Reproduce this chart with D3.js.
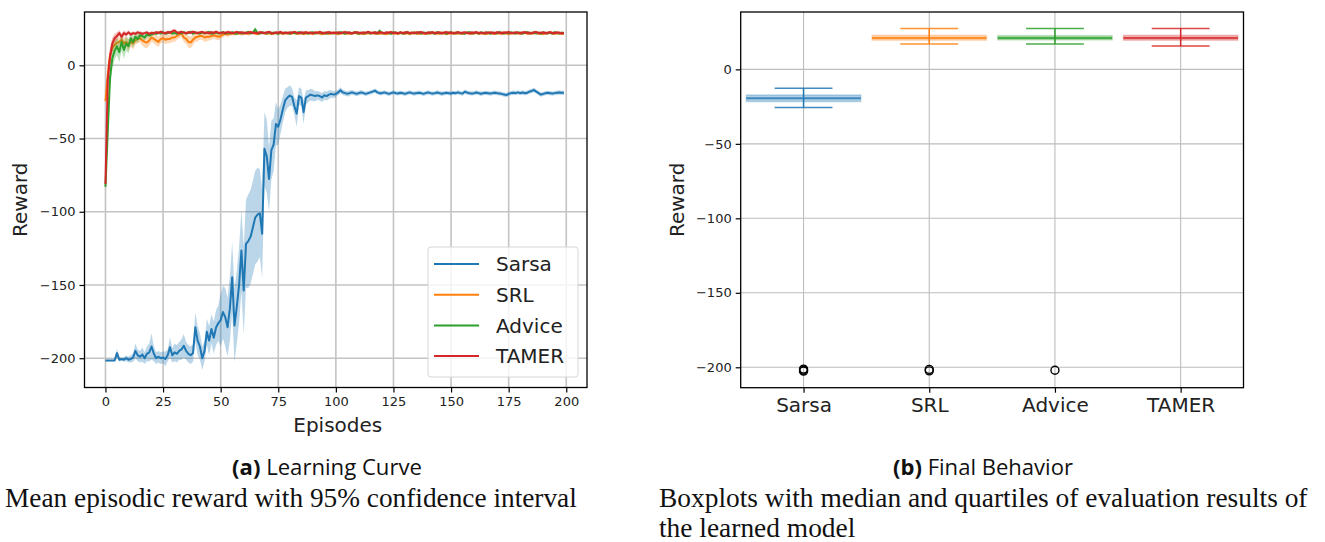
<!DOCTYPE html>
<html>
<head>
<meta charset="utf-8">
<script src="https://d3js.org/d3.v7.min.js"></script>
<style>
  body { margin: 0; background: #fff; }
  svg { display: block; }
</style>
</head>
<body>
<svg id="drawing_region"></svg>
<script>
// ---- (a) learning curve data, episodes 0..199 ----
const seriesNames = ['Sarsa', 'SRL', 'Advice', 'TAMER'];
const seriesColors = ['#1f77b4', '#ff7f0e', '#2ca02c', '#d62728'];
const xTicks = [0, 25, 50, 75, 100, 125, 150, 175, 200];
const yTicks = [-200, -150, -100, -50, 0];

const sarsaMean = [
  -201.5,-201.5,-201.5,-201.5,-201.5,-196.5,-201,-200.5,-201,-200,-201,-200.5,-199.5,-195,-198,-199,-197.5,-200,-197,-196,
  -192,-197,-200,-199,-200,-199.5,-200.5,-198,-192.5,-198,-196,-197,-195,-194,-191.5,-195,-197,-198,-196.5,-178.8,
  -188,-192,-200,-195,-182,-188,-180,-186,-179,-176,-174,-168.5,-172,-178.8,-166,-144.7,-177.7,-165,-150,-126.5,
  -153.8,-122,-120,-117,-110.6,-104,-102,-101,-115,-57,-62,-77.6,-58,-54,-40,-42,-36.6,-30,-24,-22,
  -20.7,-21.5,-28,-33,-21,-22,-32,-22,-21,-20,-20.5,-21,-20.5,-21,-22,-20.5,-21,-20,-19.5,-20,
  -19.6,-18.5,-17,-18.5,-19,-19.5,-19,-18.5,-19,-19.5,-19,-18.5,-19,-19.5,-19,-18.5,-18,-17.3,-18.5,-19,
  -19,-18.5,-19,-19.5,-19,-18.5,-19,-19.2,-18.8,-19,-19.5,-19,-18.5,-19,-19.3,-19,-18.7,-19,-19.5,-19,
  -18.5,-19,-19.3,-19,-18.6,-19,-19.4,-19,-18.8,-19,-19.2,-18.8,-19,-18.5,-19,-19.3,-18,-18.7,-19,-19.2,
  -19,-18.6,-19,-19.4,-19,-18.8,-19,-19.3,-19,-18.7,-19,-19.2,-19.5,-20,-20.3,-19.5,-19,-18.7,-19,-18.5,
  -19,-18.6,-19,-18.8,-18,-17.5,-16.9,-18,-19,-20,-19.5,-19,-18.8,-19,-19.3,-19,-18.7,-18.5,-18.8,-18.7
];
const sarsaCi = [
  0.5,0.5,0.5,0.5,0.5,3,1.5,1,1.5,2,2,2.5,3,5,4,4,5,4,5,6,
  9,5,4,4,4,4,5,4,7,5,6,6,6,7,8,6,6,6,6,10,
  10,9,8,7,9,10,10,11,12,12,18,18,20,20,22,24,25,25,26,28,
  30,30,32,32,32,32,32,30,30,25,25,22,20,18,15,12,10,9,8,7,
  7,6,6,9,6,6,8,5,4,4,4,3.5,3,3,3,3,3,3,2.5,2.5,
  2,2,2,1.8,1.8,1.8,1.8,1.6,1.6,1.6,1.6,1.6,1.5,1.5,1.5,1.5,1.5,1.5,1.5,1.5,
  1.5,1.5,1.5,1.5,1.5,1.5,1.5,1.5,1.5,1.5,1.5,1.5,1.5,1.5,1.5,1.5,1.5,1.5,1.5,1.5,
  1.5,1.5,1.5,1.5,1.5,1.5,1.5,1.5,1.5,1.5,1.5,1.5,1.5,1.5,1.5,1.5,1.5,1.5,1.5,1.5,
  1.5,1.5,1.5,1.5,1.5,1.5,1.5,1.5,1.5,1.5,1.5,1.5,1.5,1.5,1.5,1.5,1.5,1.5,1.5,1.5,
  1.5,1.5,1.5,1.5,1.5,1.5,1.5,1.5,1.5,1.5,1.5,1.5,1.5,1.5,1.5,1.5,1.5,1.5,1.5,1.5
];

const srlMean = [
  -24.5,-6,7,12,14,15.5,16,17.5,15,16,14,16,15,17,18,18.5,17,16,15.5,17,
  19,18,17,16,18,18.5,17.5,18,18,19,19,20,21,21.8,19,18,16,15.5,17.5,19,
  19.5,20,20,19,19.5,19.5,20,20.5,20,19.5,20,21,21.5,21,21.5,22,21.5,21.8,22,21.5,
  21.8,22.2,21.5,21.9,22.4,21.7,21.3,22,22.5,21.8,21.6,22.1,21.4,21.9,22.3,21.7,22,21.5,21.8,22.2,
  21.6,21.9,22.3,21.5,21.8,22.1,21.4,21.7,22.2,21.9,21.5,22,22.4,21.7,21.3,21.9,22.1,21.6,21.8,22.3,
  21.7,21.4,21.9,22.2,21.6,22,21.5,21.8,22.4,21.9,21.6,22.1,21.3,21.8,22,21.7,22.3,21.5,21.9,21.6,
  22.1,21.8,21.4,22,22.3,21.7,21.9,21.5,22.2,21.8,21.6,22,21.4,21.9,22.4,21.7,21.5,22.1,21.8,21.6,
  22,21.7,22.3,21.5,21.9,21.6,22.2,21.8,21.4,22,21.7,22.3,21.5,21.9,22.1,21.6,21.8,22.4,21.7,21.5,
  21.9,22.2,21.6,21.8,22,21.4,21.9,22.3,21.7,21.5,22.1,21.8,21.6,22.2,21.9,21.4,21.8,22.3,21.7,22,
  21.6,21.9,22.4,21.7,21.5,22,21.8,22.2,21.6,21.9,21.4,22.1,21.8,22.5,21.7,21.6,22,21.9,21.5,21.8
];
const srlCi = [
  3,5,4,3.5,3,3,3,3.5,4,3.5,4,3.5,4,3,3,3,3.5,4,4,3.5,
  3,3,3.5,3.5,3,3,3,3,3,3,3,2.5,2.5,2.5,3,3.5,4,4,3.5,3,
  3,2.5,2.5,3,3,2.5,2.5,2,2.5,2.5,2,2,1.5,1.5,1.5,1.5,1.2,1.2,1.2,1.2,
  1.2,1.1,1.1,1.1,1.1,1,1,1,1,1,1,1,1,1,1,1,1,1,1,1,
  1,1,1,1,1,1,1,1,1,1,1,1,1,1,1,1,1,1,1,1,
  1,1,1,1,1,1,1,1,1,1,1,1,1,1,1,1,1,1,1,1,
  1,1,1,1,1,1,1,1,1,1,1,1,1,1,1,1,1,1,1,1,
  1,1,1,1,1,1,1,1,1,1,1,1,1,1,1,1,1,1,1,1,
  1,1,1,1,1,1,1,1,1,1,1,1,1,1,1,1,1,1,1,1,
  1,1,1,1,1,1,1,1,1,1,1,1,1,1,1,1,1,1,1,1
];

const adviceMean = [
  -83,-45,-8,5,10,13,9,16,10.5,15,13,18.5,16,19.5,18,20.5,20,19,21,20.5,
  21,22,21.5,22.3,21.8,22.5,21.6,22,22.8,21.7,22.2,21.5,22.4,21.9,22.6,21.8,22.1,22.9,21.6,22.3,
  22,21.7,22.5,21.9,22.2,22.8,21.6,22.1,22.4,21.8,22,22.6,21.7,22.3,21.9,22.5,22.1,21.6,22.4,22,
  21.8,22.3,22.7,21.9,22.2,24.5,22,21.7,22.4,22.1,21.9,22.6,21.8,22.2,22,21.6,22.5,21.9,22.3,22.1,
  21.7,22.4,22,21.8,22.6,22.1,21.9,22.3,21.6,22.2,22.5,21.8,22,22.7,21.9,22.2,21.7,22.4,22,21.8,
  22.3,21.9,22.6,22.1,21.7,22.4,22,21.8,22.5,22.2,21.6,22.3,21.9,22.1,22.7,21.8,22,22.4,21.7,23.5,
  22.1,21.8,22.3,22,21.6,22.5,22.2,21.9,22.4,21.7,22.1,22.6,21.8,22,22.3,21.9,22.5,21.7,22.2,22,
  21.8,22.4,22.1,21.7,22.6,22,21.9,22.3,21.6,22.2,22.5,21.8,22,22.4,21.9,22.1,21.7,22.3,22.6,21.8,
  22,22.3,21.7,22.5,22.1,21.9,22.4,21.6,22.2,22,21.8,22.6,22.1,21.7,22.3,21.9,22.5,22,21.8,22.4,
  22.1,21.7,22.3,22.6,21.9,22,22.4,21.8,22.2,21.6,22.5,22.1,21.9,22.3,21.7,22.6,22,21.8,22.2,21.9
];
const adviceCi = [
  3,9,9,7,6,6,7,6,6,5,5,4,4,3.5,3,2.5,2.5,2,2,1.5,
  1.3,1.2,1.2,1.2,1.1,1.1,1.1,1,1,1,1,1,1,1,1,1,1,1,1,1,
  1,1,1,1,1,1,1,1,1,1,1,1,1,1,1,1,1,1,1,1,
  1,1,1,1,1,1.8,1,1,1,1,1,1,1,1,1,1,1,1,1,1,
  1,1,1,1,1,1,1,1,1,1,1,1,1,1,1,1,1,1,1,1,
  1,1,1,1,1,1,1,1,1,1,1,1,1,1,1,1,1,1,1,1.5,
  1,1,1,1,1,1,1,1,1,1,1,1,1,1,1,1,1,1,1,1,
  1,1,1,1,1,1,1,1,1,1,1,1,1,1,1,1,1,1,1,1,
  1,1,1,1,1,1,1,1,1,1,1,1,1,1,1,1,1,1,1,1,
  1,1,1,1,1,1,1,1,1,1,1,1,1,1,1,1,1,1,1,1
];

const tamerMean = [
  -81,-10,6,15,18.5,20,22,19.5,22,21,22.5,21,22,21.5,22.5,22,21.5,22,22.5,21.5,
  22.2,21.8,22.6,22.1,22.9,22.3,21.9,22.7,22.2,23.2,23.8,22.5,22.1,22.8,22.3,21.9,22.6,22.2,22.9,22.4,
  22,22.5,22.8,22.1,22.4,21.9,22.6,22.2,22.9,22.3,22,22.5,22.1,22.7,22.4,21.9,22.3,22.8,22.1,22.5,
  22.2,21.8,22.4,22.7,22.1,22.3,21.9,22.6,22.2,22,22.5,22.8,22.1,21.8,22.4,22.2,22.7,22,22.3,21.9,
  22.5,22.1,22.8,22.3,21.9,22.4,22.2,22.6,22,22.3,21.8,22.5,22.1,22.7,22.2,21.9,22.4,22.6,22,22.3,
  22.1,22.5,21.9,22.3,22.7,22.1,22.4,21.8,22.2,22.6,22.3,21.9,22.5,22.1,22.8,22.2,22,22.4,22.1,22.6,
  22.3,21.9,22.4,22.2,22.7,22,22.3,21.8,22.5,22.1,22.4,22.6,22,22.3,21.9,22.5,22.2,22.7,22.1,21.8,
  22.4,22.2,22.6,22,22.3,22.5,21.9,22.2,22.7,22.1,22.4,21.8,22.3,22.6,22,22.2,22.5,22.1,21.9,22.4,
  22.2,22.6,22,22.3,21.8,22.5,22.1,22.4,22.2,21.9,22.6,22.3,22,22.4,22.2,22.7,22.1,21.9,22.5,22.2,
  22,22.4,22.6,22.1,22.3,21.8,22.5,22.7,22,22.2,22.4,21.9,22.3,22.6,22.1,22,22.4,22.2,21.8,22.1
];
const tamerCi = [
  3,10,7,4,3,2.5,2,2,2,1.5,1.5,1.5,1.2,1.2,1.2,1.2,1.2,1,1,1,
  1,1,1,1,1,1,1,1,1,1.2,1.2,1,1,1,1,1,1,1,1,1,
  1,1,1,1,1,1,1,1,1,1,1,1,1,1,1,1,1,1,1,1,
  1,1,1,1,1,1,1,1,1,1,1,1,1,1,1,1,1,1,1,1,
  1,1,1,1,1,1,1,1,1,1,1,1,1,1,1,1,1,1,1,1,
  1,1,1,1,1,1,1,1,1,1,1,1,1,1,1,1,1,1,1,1,
  1,1,1,1,1,1,1,1,1,1,1,1,1,1,1,1,1,1,1,1,
  1,1,1,1,1,1,1,1,1,1,1,1,1,1,1,1,1,1,1,1,
  1,1,1,1,1,1,1,1,1,1,1,1,1,1,1,1,1,1,1,1,
  1,1,1,1,1,1,1,1,1,1,1,1,1,1,1,1,1,1,1,1
];

// ---- (b) final behaviour boxplots ----
const boxCategories = ['Sarsa', 'SRL', 'Advice', 'TAMER'];
const boxWhiskerLow = [-25.6, 17.1, 17.1, 15.6];
const boxQ1 = [-21.6, 19.6, 19.8, 19.6];
const boxMedian = [-19.4, 21.1, 21.1, 21.1];
const boxQ3 = [-17.2, 22.8, 22.6, 22.8];
const boxWhiskerHigh = [-12.7, 27.4, 27.4, 27.4];
const boxOutliers = [[-201.2, -202, -202.6], [-201.4, -202.4], [-202], []];

const svg = d3.select('#drawing_region')
    .attr('width', 1325)
    .attr('height', 542);

class LineChart {
    constructor( config, series ) {
        this.config = config;
        this.series = series;
        this.init();
    }

    init() {
        let self = this;
        const c = self.config;

        self.chart = svg.append('g')
            .attr('transform', `translate(${c.left}, ${c.top})`);

        self.xscale = d3.scaleLinear().domain(c.xdomain).range([0, c.width]);
        self.yscale = d3.scaleLinear().domain(c.ydomain).range([c.height, 0]);

        self.xaxis = d3.axisBottom(self.xscale)
            .tickValues(xTicks).tickSize(5).tickPadding(4.5).tickSizeOuter(0);
        self.yaxis = d3.axisLeft(self.yscale)
            .tickValues(yTicks).tickSize(5).tickPadding(4).tickSizeOuter(0);

        svg.append('defs').append('clipPath').attr('id', 'clipA')
            .append('rect').attr('width', c.width).attr('height', c.height);
    }

    render() {
        let self = this;
        const c = self.config;

        // grid
        self.chart.append('g').selectAll('line').data(xTicks).join('line')
            .attr('x1', d => self.xscale(d)).attr('x2', d => self.xscale(d))
            .attr('y1', 0).attr('y2', c.height)
            .attr('stroke', '#c4c4c4').attr('stroke-width', 1.6);
        self.chart.append('g').selectAll('line').data(yTicks).join('line')
            .attr('y1', d => self.yscale(d)).attr('y2', d => self.yscale(d))
            .attr('x1', 0).attr('x2', c.width)
            .attr('stroke', '#c4c4c4').attr('stroke-width', 1.6);

        const plot = self.chart.append('g').attr('clip-path', 'url(#clipA)');

        const area = d3.area()
            .x((d, i) => self.xscale(i))
            .y0(d => self.yscale(d.m - d.ci))
            .y1(d => self.yscale(d.m + d.ci));
        const line = d3.line()
            .x((d, i) => self.xscale(i))
            .y(d => self.yscale(d.m));

        self.series.forEach((s, k) => {
            const pts = s.mean.map((m, i) => ({ m: m, ci: s.ci[i] }));
            plot.append('path').datum(pts)
                .attr('d', area)
                .attr('fill', seriesColors[k])
                .attr('fill-opacity', 0.3);
            plot.append('path').datum(pts)
                .attr('d', line)
                .attr('fill', 'none')
                .attr('stroke', seriesColors[k])
                .attr('stroke-width', 2)
                .attr('stroke-linejoin', 'round');
        });

        self.chart.append('rect')
            .attr('width', c.width).attr('height', c.height)
            .attr('fill', 'none').attr('stroke', '#000').attr('stroke-width', 1.3);

        const xg = self.chart.append('g')
            .attr('transform', `translate(0, ${c.height})`)
            .call(self.xaxis);
        const yg = self.chart.append('g').call(self.yaxis);
        [xg, yg].forEach(g => {
            g.select('.domain').remove();
            g.attr('font-family', 'DejaVu Sans').attr('font-size', 13);
            g.selectAll('text').attr('fill', '#222');
            g.selectAll('line').attr('stroke-width', 1.2);
        });

        svg.append('text')
            .attr('x', c.left + c.width / 2 + 2)
            .attr('y', 432)
            .attr('text-anchor', 'middle')
            .attr('font-family', 'DejaVu Sans').attr('font-size', 20)
            .attr('fill', '#222')
            .text(c.xlabel);
        svg.append('text')
            .attr('transform', `translate(27, ${c.top + c.height / 2}) rotate(-90)`)
            .attr('text-anchor', 'middle')
            .attr('font-family', 'DejaVu Sans').attr('font-size', 20)
            .attr('fill', '#222')
            .text(c.ylabel);

        // legend
        const lg = svg.append('g').attr('transform', 'translate(428, 247)');
        lg.append('rect')
            .attr('width', 150).attr('height', 130).attr('rx', 3)
            .attr('fill', '#fff').attr('fill-opacity', 0.8)
            .attr('stroke', '#d6d6d6').attr('stroke-width', 1);
        const rows = lg.selectAll('g.row').data(seriesNames).join('g')
            .attr('class', 'row')
            .attr('transform', (d, i) => `translate(0, ${17 + i * 30.7})`);
        rows.append('line')
            .attr('x1', 6).attr('x2', 51)
            .attr('stroke', (d, i) => seriesColors[i]).attr('stroke-width', 2);
        rows.append('text')
            .attr('x', 68).attr('y', 7.3)
            .attr('font-family', 'DejaVu Sans').attr('font-size', 20)
            .attr('fill', '#222')
            .text(d => d);
    }
}

class BoxChart {
    constructor( config ) {
        this.config = config;
        this.init();
    }

    init() {
        let self = this;
        const c = self.config;
        self.chart = svg.append('g')
            .attr('transform', `translate(${c.left}, ${c.top})`);
        self.xscale = d3.scaleLinear().domain([0.5, boxCategories.length + 0.5]).range([0, c.width]);
        self.yscale = d3.scaleLinear().domain(c.ydomain).range([c.height, 0]);
        self.xaxis = d3.axisBottom(self.xscale)
            .tickValues(boxCategories.map((d, i) => i + 1))
            .tickFormat((d, i) => boxCategories[i])
            .tickSize(5).tickPadding(5).tickSizeOuter(0);
        self.yaxis = d3.axisLeft(self.yscale)
            .tickValues(yTicks).tickSize(5).tickPadding(4).tickSizeOuter(0);
    }

    render() {
        let self = this;
        const c = self.config;
        const pos = boxCategories.map((d, i) => i + 1);

        self.chart.append('g').selectAll('line').data(pos).join('line')
            .attr('x1', d => self.xscale(d)).attr('x2', d => self.xscale(d))
            .attr('y1', 0).attr('y2', c.height)
            .attr('stroke', '#bdbdbd').attr('stroke-width', 1.1);
        self.chart.append('g').selectAll('line').data(yTicks).join('line')
            .attr('y1', d => self.yscale(d)).attr('y2', d => self.yscale(d))
            .attr('x1', 0).attr('x2', c.width)
            .attr('stroke', '#bdbdbd').attr('stroke-width', 1.1);

        const boxHalf = 0.455, capHalf = 0.23;
        const g = self.chart.selectAll('g.box').data(boxCategories).join('g').attr('class', 'box');

        g.append('line')
            .attr('x1', (d, i) => self.xscale(pos[i])).attr('x2', (d, i) => self.xscale(pos[i]))
            .attr('y1', (d, i) => self.yscale(boxWhiskerLow[i]))
            .attr('y2', (d, i) => self.yscale(boxWhiskerHigh[i]))
            .attr('stroke', (d, i) => seriesColors[i]).attr('stroke-width', 1.5);
        [boxWhiskerLow, boxWhiskerHigh].forEach(arr => {
            g.append('line')
                .attr('x1', (d, i) => self.xscale(pos[i] - capHalf))
                .attr('x2', (d, i) => self.xscale(pos[i] + capHalf))
                .attr('y1', (d, i) => self.yscale(arr[i]))
                .attr('y2', (d, i) => self.yscale(arr[i]))
                .attr('stroke', (d, i) => seriesColors[i]).attr('stroke-width', 1.5)
                .attr('stroke-opacity', 0.85);
        });
        g.append('rect')
            .attr('x', (d, i) => self.xscale(pos[i] - boxHalf))
            .attr('width', self.xscale(1 + boxHalf) - self.xscale(1 - boxHalf))
            .attr('y', (d, i) => self.yscale(boxQ3[i]))
            .attr('height', (d, i) => self.yscale(boxQ1[i]) - self.yscale(boxQ3[i]))
            .attr('fill', (d, i) => seriesColors[i]).attr('fill-opacity', 0.35)
            .attr('stroke', (d, i) => seriesColors[i]).attr('stroke-opacity', 0.25)
            .attr('stroke-width', 1.5);
        g.append('line')
            .attr('x1', (d, i) => self.xscale(pos[i] - boxHalf))
            .attr('x2', (d, i) => self.xscale(pos[i] + boxHalf))
            .attr('y1', (d, i) => self.yscale(boxMedian[i]))
            .attr('y2', (d, i) => self.yscale(boxMedian[i]))
            .attr('stroke', (d, i) => seriesColors[i]).attr('stroke-width', 2)
            .attr('stroke-opacity', 0.8);

        g.each(function(d, i) {
            d3.select(this).selectAll('circle').data(boxOutliers[i]).join('circle')
                .attr('cx', self.xscale(pos[i]))
                .attr('cy', v => self.yscale(v))
                .attr('r', 4)
                .attr('fill', 'none').attr('stroke', '#000').attr('stroke-width', 1.4);
        });

        self.chart.append('rect')
            .attr('width', c.width).attr('height', c.height)
            .attr('fill', 'none').attr('stroke', '#000').attr('stroke-width', 1.3);

        const xg = self.chart.append('g')
            .attr('transform', `translate(0, ${c.height})`)
            .call(self.xaxis);
        xg.attr('font-size', 20);
        const yg = self.chart.append('g').call(self.yaxis);
        yg.attr('font-size', 13);
        [xg, yg].forEach(a => {
            a.select('.domain').remove();
            a.attr('font-family', 'DejaVu Sans');
            a.selectAll('text').attr('fill', '#222');
            a.selectAll('line').attr('stroke-width', 1.2);
        });

        svg.append('text')
            .attr('transform', `translate(684, ${c.top + c.height / 2}) rotate(-90)`)
            .attr('text-anchor', 'middle')
            .attr('font-family', 'DejaVu Sans').attr('font-size', 20)
            .attr('fill', '#222')
            .text(c.ylabel);
    }
}

const curve = new LineChart({
    left: 84.5, top: 12, width: 502.5, height: 375.5,
    xdomain: [-9.1, 209], ydomain: [-220, 36.4],
    xlabel: 'Episodes', ylabel: 'Reward'
}, [
    { mean: sarsaMean, ci: sarsaCi },
    { mean: srlMean, ci: srlCi },
    { mean: adviceMean, ci: adviceCi },
    { mean: tamerMean, ci: tamerCi }
]);
curve.render();

const boxes = new BoxChart({
    left: 740.7, top: 12, width: 502.8, height: 375.7,
    ydomain: [-213.7, 38.5], ylabel: 'Reward'
});
boxes.render();

// ---- captions ----
function caption(x, label, rest, width) {
    const t = svg.append('text')
        .attr('x', x).attr('y', 475)
        .attr('text-anchor', 'middle')
        .attr('font-family', 'Open Sans').attr('font-size', 20)
        .attr('fill', '#111');
    t.append('tspan').attr('font-weight', 'bold').text(label);
    t.append('tspan').text(' ' + rest);
    const w = t.node().getComputedTextLength();
    t.attr('font-size', 20 * width / w);
}
caption(327, '(a)', 'Learning Curve', 190);
caption(983, '(b)', 'Final Behavior', 180);

function serifLine(x, y, str, width) {
    const t = svg.append('text')
        .attr('x', x).attr('y', y)
        .attr('font-family', 'Liberation Serif').attr('font-size', 20)
        .attr('fill', '#111')
        .text(str);
    if (width) {
        const w = t.node().getComputedTextLength();
        t.attr('font-size', 20 * width / w);
    }
    return t;
}
serifLine(5, 507, 'Mean episodic reward with 95% confidence interval', 572);
const l1 = serifLine(659, 507, 'Boxplots with median and quartiles of evaluation results of', 649);
serifLine(659, 537, 'the learned model').attr('font-size', l1.attr('font-size'));
</script>
</body>
</html>
